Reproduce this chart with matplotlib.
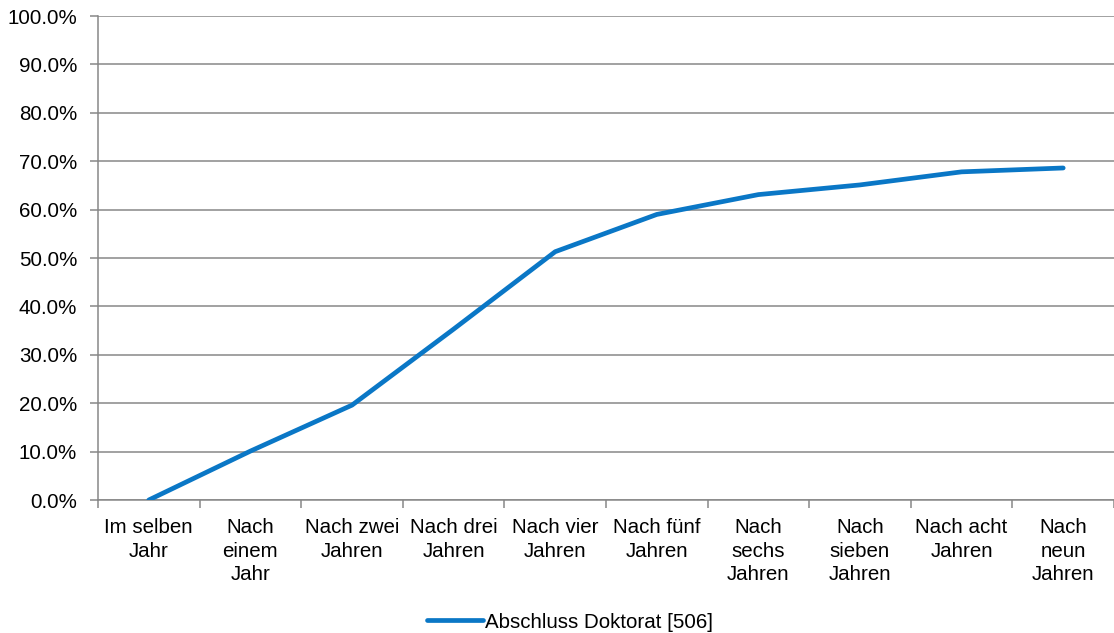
import matplotlib
matplotlib.use("Agg")
import matplotlib.pyplot as plt
from matplotlib.ticker import FuncFormatter, FixedLocator

categories = ["Im selben\nJahr", "Nach\neinem\nJahr", "Nach zwei\nJahren", "Nach drei\nJahren",
              "Nach vier\nJahren", "Nach fünf\nJahren", "Nach\nsechs\nJahren", "Nach\nsieben\nJahren",
              "Nach acht\nJahren", "Nach\nneun\nJahren"]
values = [0.0, 10.1, 19.6, 35.3, 51.3, 59.0, 63.1, 65.1, 67.8, 68.6]
series_name = "Abschluss Doktorat [506]"

plt.rcParams['font.family'] = ['Liberation Sans', 'DejaVu Sans']
grid_col = "#878787"
line_col = "#0A77C6"
fs = 14.8

fig = plt.figure(figsize=(11.14, 6.33), dpi=100)
ax = fig.add_axes([98 / 1114, 1 - 500 / 633, 1016 / 1114, 484 / 633])

x = list(range(len(values)))
ax.plot(x, values, color=line_col, lw=3.4, solid_capstyle='round', solid_joinstyle='round',
        label=series_name, zorder=3)

ax.set_xlim(-0.5, len(values) - 0.5)
ax.set_ylim(0, 100)
ax.set_yticks(range(0, 101, 10))
ax.yaxis.set_major_formatter(FuncFormatter(lambda v, p: f"{v:.1f}%"))
ax.grid(axis='y', color=grid_col, lw=1.1)
ax.set_axisbelow(True)

ax.set_xticks(x)
ax.set_xticklabels(categories, fontsize=fs, linespacing=1.3, va='top')
ax.tick_params(axis='x', length=0, pad=13)
ax.xaxis.set_minor_locator(FixedLocator([i - 0.5 for i in range(len(values) + 1)]))
ax.tick_params(axis='x', which='minor', length=6, color=grid_col, width=1.1)
ax.tick_params(axis='y', length=6, color=grid_col, width=1.1, labelsize=fs, pad=9)

for s in ['top', 'right']:
    ax.spines[s].set_visible(False)
for s in ['left', 'bottom']:
    ax.spines[s].set_color(grid_col)
    ax.spines[s].set_linewidth(1.1)

fig.legend(loc='center', bbox_to_anchor=(0.5 + 13 / 1114, 1 - 622 / 633), frameon=False, fontsize=fs,
           handlelength=2.75, handletextpad=0.1)

fig.savefig("out.png", dpi=100)
